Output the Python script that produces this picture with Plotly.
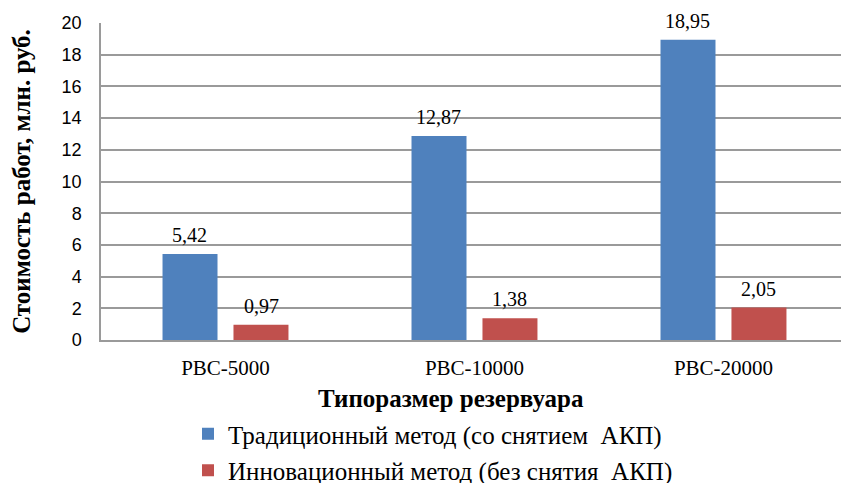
import plotly.graph_objects as go

categories = ["РВС-5000", "РВС-10000", "РВС-20000"]
traditional = [5.42, 12.87, 18.95]
innovative = [0.97, 1.38, 2.05]
traditional_labels = ["5,42", "12,87", "18,95"]
innovative_labels = ["0,97", "1,38", "2,05"]
series_names = ["Традиционный метод (со снятием\u00a0\u00a0АКП)",
                "Инновационный метод (без снятия\u00a0\u00a0АКП)"]
y_ticks = [0, 2, 4, 6, 8, 10, 12, 14, 16, 18, 20]

SERIF = "'Liberation Serif', 'Times New Roman', Tinos, 'DejaVu Serif', serif"
SANS = "'Liberation Sans', Arial, sans-serif"
BLUE = "#4F81BD"
RED = "#C0504D"
GRID = "#9A9A9A"

fig = go.Figure()
fig.add_trace(go.Bar(x=categories, y=traditional, name=series_names[0],
                     marker=dict(color=BLUE, line=dict(width=0)),
                     legendgroup="a"))
fig.add_trace(go.Bar(x=categories, y=innovative, name=series_names[1],
                     marker=dict(color=RED, line=dict(width=0)),
                     legendgroup="b"))

# data labels
for vals, labs, off in [(traditional, traditional_labels, -1), (innovative, innovative_labels, 1)]:
    for i, (v, t) in enumerate(zip(vals, labs)):
        fig.add_annotation(x=i + off * 0.1426, y=v, xref="x", yref="y", text=t,
                           showarrow=False, yanchor="bottom", yshift=6,
                           font=dict(family=SERIF, size=20, color="#000"))

fig.add_annotation(x=(451 - 101) / 740, y=(340 - 398) / 317, xref="paper", yref="paper",
                   text="<b>Типоразмер резервуара</b>", showarrow=False,
                   xanchor="center", yanchor="middle",
                   font=dict(family=SERIF, size=25, color="#000"))

fig.update_layout(
    width=841, height=483,
    font=dict(family=SERIF),
    margin=dict(l=101, r=0, t=23, b=143, autoexpand=False),
    paper_bgcolor="white", plot_bgcolor="white",
    barmode="group", bargap=0.43, bargroupgap=0.225,
    showlegend=True,
    legend=dict(orientation="v", x=(188 - 101) / 740, y=(340 - 411) / 317,
                xanchor="left", yanchor="top", traceorder="grouped",
                tracegroupgap=1, font=dict(family=SERIF, size=25, color="#000"),
                bgcolor="rgba(0,0,0,0)", itemwidth=30),
    xaxis=dict(type="category", range=[-0.5, 2.472], showgrid=False,
               showline=True, linecolor=GRID, linewidth=1.5, ticks="",
               tickfont=dict(family=SERIF, size=21, color="#000"),
               ticklabelstandoff=8),
    yaxis=dict(range=[0, 20], tickvals=y_ticks, showgrid=True, gridcolor=GRID,
               gridwidth=1.5, showline=True, linecolor=GRID, linewidth=1.5,
               ticks="", zeroline=False,
               tickfont=dict(family=SANS, size=18, color="#000"),
               ticklabelstandoff=14,
               title=dict(text="<b>Стоимость работ, млн. руб.</b>", standoff=24,
                          font=dict(family=SERIF, size=25, color="#000"))),
)

fig.write_html("out.html", config={"displayModeBar": False},
               post_script="document.body.style.margin='0';document.body.style.padding='0';")
